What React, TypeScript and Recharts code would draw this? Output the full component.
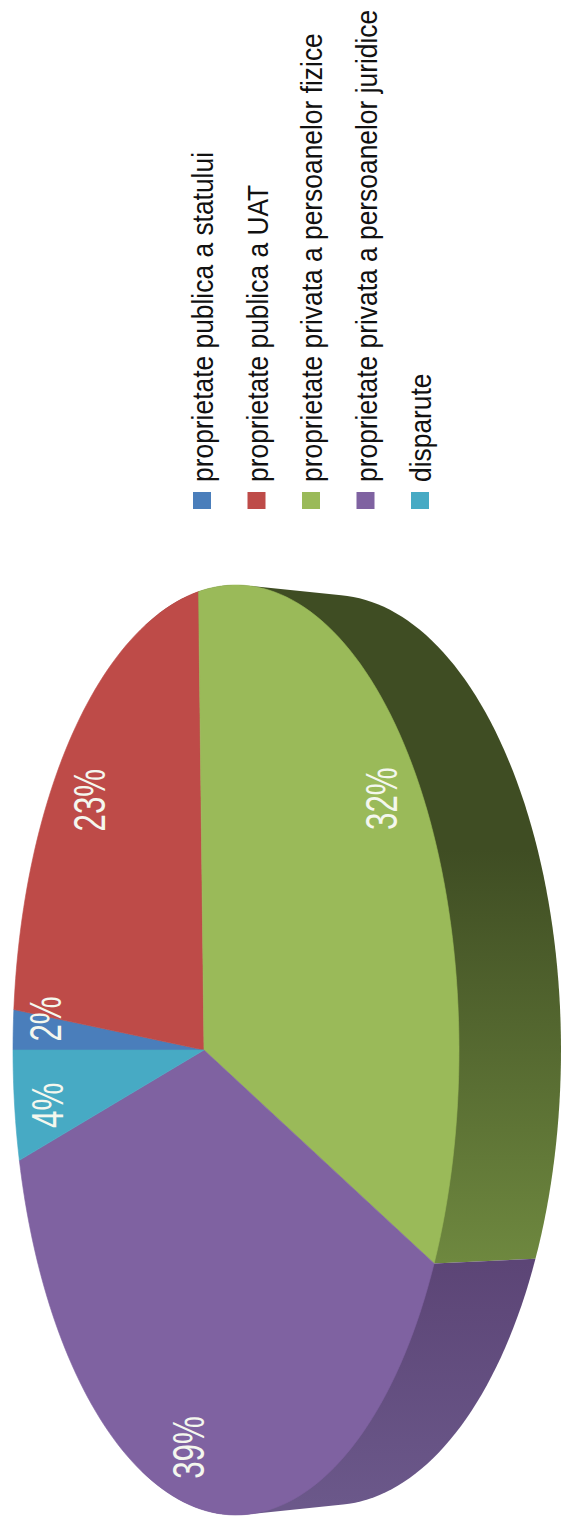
import React from "react";
import { PieChart, Pie, Legend } from "recharts";

const categories = [
  "proprietate publica a statului",
  "proprietate publica a UAT",
  "proprietate privata a persoanelor fizice",
  "proprietate privata a persoanelor juridice",
  "disparute",
];
const shares = [1.6, 23, 32, 39, 4.4];
const percentLabels = ["2%", "23%", "32%", "39%", "4%"];
const topColors = ["#4a7ebb", "#be4b48", "#9aba59", "#7f62a1", "#47aac4"];
const wallDark = ["#2c4a70", "#72302e", "#3f4d23", "#5c4576", "#2b6676"];
const wallLight = ["#3d659b", "#98403d", "#6e883f", "#6b588a", "#3a88a0"];
const labelRadius = [0.816, 0.815, 0.878, 0.876, 0.81];
const labelAngleShift = [-2.4, 1.1, 0, -0.8, 1.6];

const tableData = categories.map((name, i) => ({ name, value: shares[i], fill: topColors[i] }));

// projection of the pie disc
const TILT = -0.1435;
const SQUASH = Math.sqrt(1 - TILT * TILT);
const TOP_RY = 465 / 223;
const project = (u: number, v: number) => {
  const d = 1 + TILT * u;
  return [(u + TILT) / d, (v * SQUASH) / d];
};
const topPoint = (cx: number, cy: number, R: number, u: number, v: number) => {
  const [a, b] = project(u, v);
  return [cx + R * a, cy + R * TOP_RY * b];
};
const bottomPoint = (cx: number, cy: number, R: number, u: number, v: number) => {
  const [a, b] = project(u, v);
  return [cx + 96 + (229 / 223) * R * a, cy + (455 / 223) * R * b];
};
const rim = (start: number, end: number, fn: (u: number, v: number) => number[], minU = -2) => {
  const n = Math.max(4, Math.ceil(Math.abs(end - start) / 1.5));
  const pts: number[][] = [];
  for (let i = 0; i <= n; i++) {
    const t = ((start + ((end - start) * i) / n) * Math.PI) / 180;
    if (Math.cos(t) >= minU) pts.push(fn(Math.cos(t), -Math.sin(t)));
  }
  return pts;
};
const toPath = (pts: number[][]) => "M" + pts.map((p) => `${p[0].toFixed(2)},${p[1].toFixed(2)}`).join("L") + "Z";
const hull = (input: number[][]) => {
  const pts = [...input].sort((p, q) => p[0] - q[0] || p[1] - q[1]);
  const cross = (o: number[], a: number[], b: number[]) => (a[0] - o[0]) * (b[1] - o[1]) - (a[1] - o[1]) * (b[0] - o[0]);
  const lower: number[][] = [];
  for (const p of pts) {
    while (lower.length >= 2 && cross(lower[lower.length - 2], lower[lower.length - 1], p) <= 0) lower.pop();
    lower.push(p);
  }
  const upper: number[][] = [];
  for (const p of pts.reverse()) {
    while (upper.length >= 2 && cross(upper[upper.length - 2], upper[upper.length - 1], p) <= 0) upper.pop();
    upper.push(p);
  }
  return [...lower.slice(0, -1), ...upper.slice(0, -1)];
};

const TopShape = (p: any) => {
  const { cx, cy, outerRadius: R, startAngle, endAngle, fill } = p;
  const apex = topPoint(cx, cy, R, 0, 0);
  const pts = [apex, ...rim(startAngle, endAngle, (u, v) => topPoint(cx, cy, R, u, v))];
  return <path d={toPath(pts)} fill={fill} stroke={fill} strokeWidth={0.6} />;
};

const WallShape = (p: any) => {
  const { cx, cy, outerRadius: R, startAngle, endAngle, index } = p;
  const a = rim(startAngle, endAngle, (u, v) => topPoint(cx, cy, R, u, v), -0.3);
  const b = rim(startAngle, endAngle, (u, v) => bottomPoint(cx, cy, R, u, v), -0.3);
  if (a.length + b.length < 3) return <g />;
  const id = `wall-${index}`;
  const greenLike = index === 2;
  return (
    <g>
      <defs>
        <linearGradient id={id} gradientUnits="userSpaceOnUse" x1="0" x2="0" y1={greenLike ? 850 : 1262} y2={greenLike ? 1262 : 1505}>
          <stop offset="0" stopColor={wallDark[index]} />
          <stop offset="1" stopColor={wallLight[index]} />
        </linearGradient>
      </defs>
      <path d={toPath(hull([...a, ...b]))} fill={`url(#${id})`} />
    </g>
  );
};

const FONT = '"Liberation Sans", Arial, sans-serif';

const renderLabel = (p: any) => {
  const { cx, cy, outerRadius: R, midAngle, index } = p;
  const t = ((midAngle + labelAngleShift[index]) * Math.PI) / 180;
  const r = labelRadius[index];
  const [x, y] = topPoint(cx, cy, R, r * Math.cos(t), -r * Math.sin(t));
  return (
    <text
      transform={`translate(${x},${y}) rotate(-90) scale(0.71,1)`}
      textAnchor="middle"
      dominantBaseline="central"
      fontFamily={FONT}
      fontSize={44}
      fill="#f4f7ee"
    >
      {percentLabels[index]}
    </text>
  );
};

const LegendBody = (props: any) => {
  const seen = new Set<string>();
  const items = (props.payload || [])
    .filter((it: any) => {
      if (seen.has(it.value)) return false;
      seen.add(it.value);
      return true;
    })
    .sort((x: any, y: any) => categories.indexOf(x.value) - categories.indexOf(y.value));
  return (
    <svg width={561} height={540} style={{ position: "absolute", left: 0, top: 0 }}>
      {items.map((it: any, i: number) => {
        const base = 213 + i * 54.5;
        return (
          <g key={i}>
            <rect x={base - 20} y={492} width={18} height={17} fill={topColors[i]} />
            <text
              transform={`translate(${base},482) rotate(-90) scale(0.91,1)`}
              fontFamily={FONT}
              fontSize={29}
              fill="#111"
            >
              {it.value}
            </text>
          </g>
        );
      })}
    </svg>
  );
};

export default function App() {
  return (
    <div style={{ position: "absolute", left: 0, top: 0, width: 561, height: 1528, background: "#fff", overflow: "hidden" }}>
      <PieChart width={561} height={1528} margin={{ top: 0, right: 0, bottom: 0, left: 0 }}>
        <Pie
          data={tableData}
          dataKey="value"
          nameKey="name"
          cx={236}
          cy={1050}
          innerRadius={0}
          outerRadius={223}
          startAngle={180}
          endAngle={-180}
          stroke="none"
          legendType="none"
          isAnimationActive={false}
          shape={WallShape}
        />
        <Pie
          data={tableData}
          dataKey="value"
          nameKey="name"
          cx={236}
          cy={1050}
          innerRadius={0}
          outerRadius={223}
          startAngle={180}
          endAngle={-180}
          stroke="none"
          isAnimationActive={false}
          shape={TopShape}
          label={renderLabel}
          labelLine={false}
        />
        <Legend content={LegendBody} wrapperStyle={{ position: "absolute", left: 0, top: 0, width: 561, height: 540, bottom: "auto" }} />
      </PieChart>
    </div>
  );
}
